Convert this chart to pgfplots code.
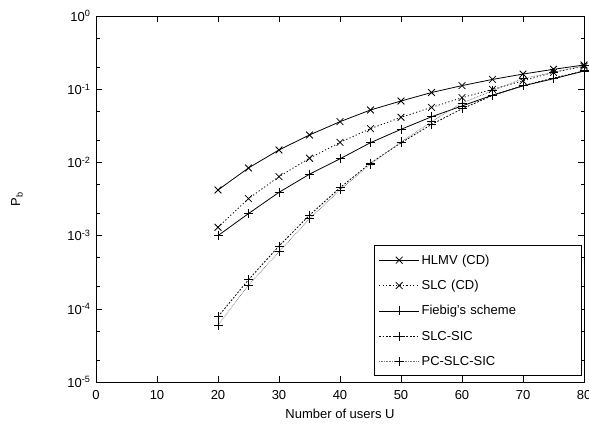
\documentclass[border=0pt]{standalone}
\usepackage{fontspec}
\setmainfont{Liberation Sans}
\usepackage{pgfplots}
\pgfplotsset{compat=1.18}
\begin{document}
\begin{tikzpicture}
\begin{axis}[
  scale only axis, width=488pt, height=366pt,
  ymode=log, xmin=0, xmax=80, ymin=1e-5, ymax=1,
  xtick={0,10,...,80},
  ytick={1e-5,1e-4,1e-3,1e-2,1e-1,1},
  yticklabels={10\textsuperscript{-5},10\textsuperscript{-4},10\textsuperscript{-3},10\textsuperscript{-2},10\textsuperscript{-1},10\textsuperscript{0}},
  minor ytick={2e-5,5e-5,2e-4,5e-4,2e-3,5e-3,2e-2,5e-2,2e-1,5e-1},
  tick align=inside, xtick pos=both, ytick pos=both,
  major tick length=6pt, minor tick length=3.5pt,
  tick style={line width=0.6pt, black},
  axis line style={line width=0.8pt},
  font=\fontsize{13}{15}\selectfont,
  /pgf/number format/assume math mode=true,
  xlabel={Number of users U},
  ylabel={P\textsubscript{b}},
  ylabel style={at={(axis description cs:-0.162,0.5)}, anchor=center},
  xticklabel style={yshift=-5pt},
  xlabel style={yshift=-2pt},
  yticklabel style={xshift=-2pt},
  legend cell align=left,
  legend style={at={(axis description cs:0.9959,0.0164)}, anchor=south east,
    draw=black, line width=0.8pt, row sep=10.5pt, inner xsep=4pt, inner ysep=7pt,
    font=\fontsize{13}{15}\selectfont,
    /tikz/every even column/.append style={column sep=4pt, text width=154pt}},
  legend image code/.code={\draw[mark repeat=2,mark phase=2] plot coordinates {(0pt,0pt) (20pt,0pt) (40pt,0pt)};},
]
\addplot[black, line width=0.8pt, mark=x, mark size=4.8pt, mark options={solid}] coordinates {
(20,0.0042) (25,0.0084) (30,0.0148) (35,0.0237) (40,0.036) (45,0.052) (50,0.069) (55,0.090) (60,0.112) (65,0.136) (70,0.161) (75,0.187) (80,0.214)};
\addlegendentry{HLMV (CD)}
\addplot[black, line width=0.8pt, dash pattern=on 1.2pt off 2.2pt, mark=x, mark size=4.8pt, mark options={solid}] coordinates {
(20,0.0013) (25,0.0032) (30,0.0064) (35,0.0114) (40,0.0188) (45,0.0289) (50,0.0413) (55,0.0565) (60,0.0766) (65,0.0996) (70,0.130) (75,0.170) (80,0.205)};
\addlegendentry{SLC (CD)}
\addplot[black, line width=0.8pt, mark=+, mark size=4.5pt, mark options={solid}] coordinates {
(20,0.0010) (25,0.0020) (30,0.0039) (35,0.0069) (40,0.0112) (45,0.0186) (50,0.0283) (55,0.042) (60,0.059) (65,0.083) (70,0.111) (75,0.139) (80,0.177)};
\addlegendentry{Fiebig's scheme}
\addplot[black, line width=0.8pt, dash pattern=on 1.8pt off 1.6pt, mark=+, mark size=4.5pt, mark options={solid}] coordinates {
(20,7.8e-5) (25,2.5e-4) (30,7.2e-4) (35,1.9e-3) (40,4.5e-3) (45,0.0098) (50,0.0185) (55,0.033) (60,0.054) (65,0.082) (70,0.112) (75,0.142) (80,0.178)};
\addlegendentry{SLC-SIC}
\addplot[black!55, line width=0.7pt, dash pattern=on 0.7pt off 0.9pt, mark=+, mark size=4.5pt, mark options={solid, black}] coordinates {
(20,6.0e-5) (25,2.1e-4) (30,6.0e-4) (35,1.7e-3) (40,4.2e-3) (45,0.0095) (50,0.019) (55,0.036) (60,0.065) (65,0.095) (70,0.140) (75,0.170) (80,0.210)};
\addlegendentry{PC-SLC-SIC}
\end{axis}
\pgfresetboundingbox
\path ([shift={(-96pt,-42pt)}]current axis.south west) rectangle ([shift={(5pt,16pt)}]current axis.north east);
\end{tikzpicture}
\end{document}
